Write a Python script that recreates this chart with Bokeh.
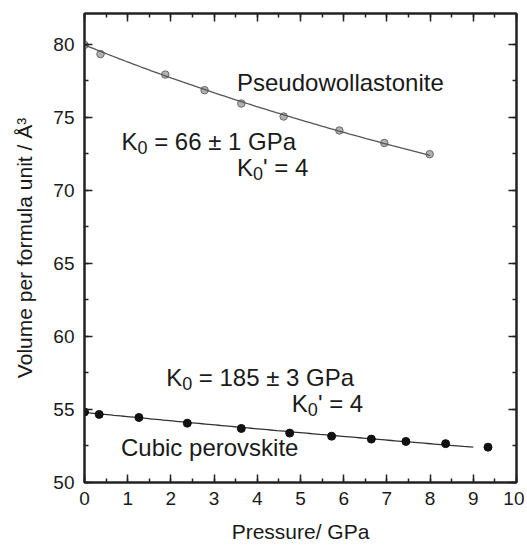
import numpy as np
from bokeh.plotting import figure
from bokeh.models import LinearAxis, Range1d, SingleIntervalTicker, CustomJSTickFormatter
from bokeh.core.properties import value
from bokeh.embed import file_html
from bokeh.resources import INLINE

# ---- data ----
pw_pressure = [0.0, 0.37, 1.87, 2.78, 3.63, 4.61, 5.90, 6.94, 7.99]
pw_volume = [79.95, 79.32, 77.92, 76.85, 75.94, 75.05, 74.09, 73.24, 72.47]
pv_pressure = [0.0, 0.34, 1.26, 2.38, 3.63, 4.75, 5.72, 6.64, 7.44, 8.36, 9.34]
pv_volume = [54.82, 54.66, 54.45, 54.06, 53.70, 53.38, 53.17, 52.97, 52.81, 52.66, 52.42]

# equation-of-state fit parameters shown on the chart
pw_V0, pw_K0, pw_K0p, pw_Pmax = 79.95, 66.0, 4.0, 8.0
pv_V0, pv_K0, pv_K0p, pv_Pmax = 54.8, 185.0, 4.0, 9.0

x_range = (0, 10)
y_range = (50, 82.1)

FONT = value("Liberation Sans")
TXT = "#1a1a1a"


def bm3_pressure(V, V0, K0, K0p):
    x = V0 / V
    return 1.5 * K0 * (x ** (7 / 3) - x ** (5 / 3)) * (1 + 0.75 * (K0p - 4) * (x ** (2 / 3) - 1))


def fit_curve(V0, K0, K0p, Pmax):
    V = np.linspace(V0, V0 * 0.8, 3000)
    P = bm3_pressure(V, V0, K0, K0p)
    Pg = np.linspace(0, Pmax, 120)
    Vg = np.interp(Pg, P, V)
    return Pg, Vg


p = figure(width=524, height=546, x_range=Range1d(*x_range), y_range=Range1d(*y_range),
           output_backend="svg", toolbar_location=None,
           min_border_left=84, min_border_right=8, min_border_top=13, min_border_bottom=64)
p.xgrid.visible = False
p.ygrid.visible = False
p.outline_line_color = "#222222"
p.outline_line_width = 2
p.background_fill_color = "white"
p.border_fill_color = "white"

blank = CustomJSTickFormatter(code="return '';")


def style_axis(ax, labels=True):
    ax.axis_line_color = "#222222"
    ax.axis_line_width = 2
    ax.major_tick_in = 8
    ax.major_tick_out = 0
    ax.minor_tick_in = 4
    ax.minor_tick_out = 0
    ax.major_tick_line_color = "#222222"
    ax.minor_tick_line_color = "#222222"
    ax.major_tick_line_width = 1.5
    ax.minor_tick_line_width = 1.5
    if labels:
        ax.major_label_text_font = "Liberation Sans"
        ax.major_label_text_font_size = "19px"
        ax.major_label_text_color = TXT
        ax.axis_label_text_font = "Liberation Sans"
        ax.axis_label_text_font_size = "21px"
        ax.axis_label_text_font_style = "normal"
        ax.axis_label_text_color = TXT
    else:
        ax.formatter = blank
        ax.major_label_text_font_size = "1px"
        ax.major_label_standoff = 0
        ax.axis_label_standoff = 0


xb = p.xaxis[0]
xb.ticker = SingleIntervalTicker(interval=1, num_minor_ticks=2)
xb.axis_label = "Pressure/ GPa"
style_axis(xb)
xb.major_label_standoff = 9
xb.axis_label_standoff = 12

yl = p.yaxis[0]
yl.ticker = SingleIntervalTicker(interval=5, num_minor_ticks=2)
yl.axis_label = "Volume per formula unit / Å³"
style_axis(yl)
yl.major_label_standoff = 10
yl.axis_label_standoff = 14

xt = LinearAxis(ticker=SingleIntervalTicker(interval=1, num_minor_ticks=2))
style_axis(xt, labels=False)
p.add_layout(xt, "above")
yr = LinearAxis(ticker=SingleIntervalTicker(interval=5, num_minor_ticks=2))
style_axis(yr, labels=False)
p.add_layout(yr, "right")

# ---- fits and points ----
pwP, pwV = fit_curve(pw_V0, pw_K0, pw_K0p, pw_Pmax)
pvP, pvV = fit_curve(pv_V0, pv_K0, pv_K0p, pv_Pmax)

p.scatter(pw_pressure, pw_volume, marker="circle", size=7.5,
          fill_color="#b0b0b0", line_color="#6a6a6a", line_width=1)
p.line(pwP, pwV, line_color="#555555", line_width=1.3)
p.line(pvP, pvV, line_color="#333333", line_width=1.3)
p.scatter(pv_pressure, pv_volume, marker="circle", size=8,
          fill_color="#111111", line_color="#111111")

# ---- annotations ----
SIZE = 24
SUB = 18
wK = 0.667 * SIZE
wS = 0.556 * SUB
wSp = 0.278 * SIZE
DY = -10


def txt(x, y, s, dx=0, dy=0, size=SIZE):
    p.text(x=[x], y=[y], text=[s], x_offset=dx, y_offset=DY + dy,
           text_font=FONT, text_font_size=f"{size}px", text_color=TXT,
           text_align="left", text_baseline="alphabetic")


def k_label(x, y, rest, space=True):
    txt(x, y, "K")
    txt(x, y, "0", dx=wK, dy=6, size=SUB)
    txt(x, y, rest, dx=wK + wS + (wSp if space else 0))


txt(3.53, 76.71, "Pseudowollastonite")
k_label(0.856, 72.66, "= 66 ± 1 GPa")
k_label(3.53, 70.90, "' = 4", space=False)
k_label(1.89, 56.52, "= 185 ± 3 GPa")
k_label(4.80, 54.74, "' = 4", space=False)
txt(0.845, 51.69, "Cubic perovskite")

open("out.html", "w").write(file_html(p, INLINE))
